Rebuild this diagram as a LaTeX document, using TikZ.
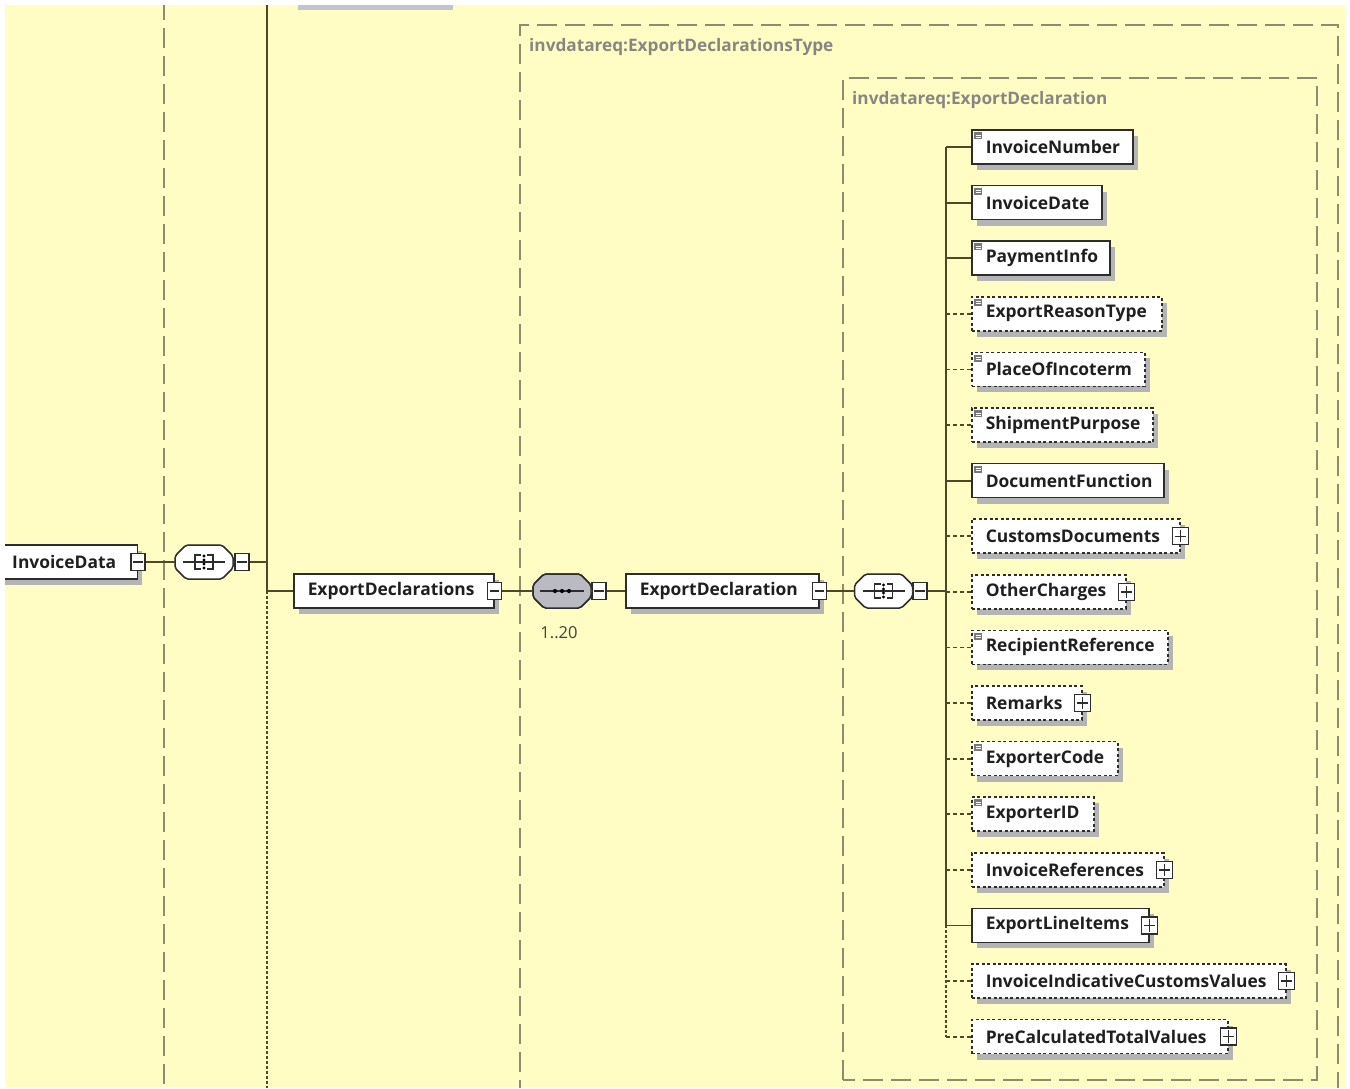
\documentclass[tikz,border=0pt]{standalone}
\usepackage{fontspec}
\setmainfont{Open Sans}
\usetikzlibrary{calc,shadows}
\definecolor{bgc}{RGB}{255,253,196}
\definecolor{linec}{RGB}{78,72,40}
\definecolor{boxc}{RGB}{45,45,45}
\definecolor{shc}{RGB}{180,180,180}
\definecolor{framec}{RGB}{140,140,112}
\definecolor{lblc}{RGB}{135,135,130}
\definecolor{compgray}{RGB}{186,186,194}
\definecolor{compdark}{RGB}{160,160,168}
\definecolor{iconc}{RGB}{120,120,120}
\definecolor{topgray}{RGB}{196,196,206}

\newcommand\octo[2]{%
  \draw[#2] ($(#1)+(-29,-6)$) -- ($(#1)+(-18,-17)$) -- ($(#1)+(18,-17)$) -- ($(#1)+(29,-6)$)
   -- ($(#1)+(29,6)$) -- ($(#1)+(18,17)$) -- ($(#1)+(-18,17)$) -- ($(#1)+(-29,6)$) -- cycle;}
\newcommand\allicon[1]{%
  \draw[boxc,line width=1.2pt] ($(#1)+(-21,0)$) -- ($(#1)+(21,0)$);
  \draw[boxc,line width=1.4pt] ($(#1)+(-3,-7)$) -- ($(#1)+(-9,-7)$) -- ($(#1)+(-9,7)$) -- ($(#1)+(-3,7)$);
  \draw[boxc,line width=1.4pt] ($(#1)+(3,-7)$) -- ($(#1)+(9,-7)$) -- ($(#1)+(9,7)$) -- ($(#1)+(3,7)$);
  \foreach \dy in {-6,-2,2,6} {\fill[black] ($(#1)+(0,\dy)$) circle (1.6pt);}}
\newcommand\sicon[1]{%
  \fill[iconc] ($(#1.north west)+(3,3)$) rectangle ($(#1.north west)+(11,10)$);
  \draw[white,line width=.5pt] ($(#1.north west)+(4.5,5.5)$) -- ($(#1.north west)+(9.5,5.5)$)
    ($(#1.north west)+(4.5,7.5)$) -- ($(#1.north west)+(9.5,7.5)$);}
\newcommand\minusbox[2]{%
  \node[pmbox] (#1) at (#2) {};
  \draw[boxc,line width=1.3pt] ($(#1.west)+(3,0)$) -- ($(#1.east)+(-3,0)$);}
\newcommand\plusbox[2]{%
  \node[pmbox,minimum width=16pt,minimum height=17pt] (#1) at (#2) {};
  \draw[boxc,line width=1.4pt] ($(#1.west)+(3,0)$) -- ($(#1.east)+(-3,0)$)
    ($(#1.north)+(0,3)$) -- ($(#1.south)+(0,-3)$);}

\begin{document}
\begin{tikzpicture}[x=1pt,y=-1pt,
  conn/.style={draw=linec,line width=1.8pt},
  optconn/.style={conn,dash pattern=on 4pt off 3pt},
  dotconn/.style={conn,line width=2pt,dash pattern=on 2.5pt off 2.5pt},
  frame/.style={draw=framec,line width=1.4pt,dash pattern=on 20pt off 8pt},
  elem/.style={draw=boxc,line width=1.5pt,fill=white,anchor=west,minimum height=34pt,
     inner xsep=14pt,inner ysep=0pt,align=left,
     font=\fontsize{17.4}{20}\selectfont\bfseries,text=black!88,
     drop shadow={shadow xshift=5pt,shadow yshift=-6pt,fill=shc,opacity=1}},
  optelem/.style={elem,dash pattern=on 3pt off 2.5pt},
  pmbox/.style={draw=boxc,line width=1.5pt,fill=white,minimum width=14pt,minimum height=17pt,inner sep=0pt},
  compnode/.style={rectangle,minimum width=58pt,minimum height=34pt,inner sep=0pt},
  comp/.style={draw=boxc,line width=1.5pt,fill=white,rounded corners=2pt},
  compg/.style={draw=boxc,line width=1.5pt,fill=compgray,rounded corners=2pt},
  compsh/.style={fill=shc,rounded corners=2pt},
  lbl/.style={anchor=west,font=\fontsize{17.2}{20}\selectfont\bfseries,text=lblc,inner sep=0pt},
]
\useasboundingbox (0,0) rectangle (1350,1088);
\fill[white] (0,0) rectangle (1350,1088);
\fill[bgc] (5,5) rectangle (1345,1087);
\begin{scope}
\clip (5,5) rectangle (1345,1087);

% frames
\draw[frame] (164,0) -- (164,1100);
\draw[frame] (520,1100) -- (520,25) -- (1338,25) -- (1338,1100);
\draw[frame] (843,1080) -- (843,78) -- (1317,78) -- (1317,1080) -- cycle;
\node[lbl] (lt1) at (529,47) {invdatareq:ExportDeclarationsType};
\node[lbl] (lt2) at (852,100) {invdatareq:ExportDeclaration};

% top gray remnant
\fill[topgray] (298,0) rectangle (453,10);

% left trunk
\coordinate (tA) at (267,0);
\coordinate (tB) at (267,591);
\coordinate (tC) at (267,1100);
\draw[conn] (tA) -- (tB);
\draw[dotconn] (tB) -- (tC);

% InvoiceData
\node[elem,anchor=east,text width=111pt] (id) at (138,562) {InvoiceData};
\minusbox{idm}{id.east}
\node[compnode] (c1) at (204,562) {};
\octo{c1}{compsh,xshift=4pt,yshift=-5pt}
\octo{c1}{comp}
\allicon{c1}
\minusbox{c1m}{242,562}
\draw[conn] (idm.east) -- (c1.west);
\draw[conn] (c1.east) -- (c1m.west);
\draw[conn] (c1m.east) -- (c1m.east -| tA);

% ExportDeclarations
\node[elem,text width=172pt] (eds) at (293,591) {ExportDeclarations};
\minusbox{edsm}{eds.east}
\draw[conn] (tB) -- (eds.west);

% multiple sequence
\node[compnode] (c2) at (562,591) {};
\octo{c2}{compsh,xshift=10pt,yshift=-10pt}
\octo{c2}{compg,fill=compdark,xshift=6pt,yshift=-5pt}
\octo{c2}{compg}
\draw[boxc,line width=1.3pt] ($(c2)+(-22,0)$) -- ($(c2)+(22,0)$);
\foreach \dx in {-7,0,7} {\fill[black] ($(c2)+(\dx,0)$) circle (2.1pt);}
\node[font=\fontsize{16.5}{19}\selectfont,text=black!75] (occ) at (559,633) {1..20};
\minusbox{c2m}{599,591}
\draw[conn] (edsm.east) -- (c2.west);
\draw[conn] (c2.east) -- (c2m.west);

% ExportDeclaration
\node[elem,text width=165pt] (ed) at (625,591) {ExportDeclaration};
\minusbox{edm}{ed.east}
\draw[conn] (c2m.east) -- (ed.west);
\node[compnode] (c3) at (883.5,591) {};
\octo{c3}{compsh,xshift=4pt,yshift=-5pt}
\octo{c3}{comp}
\allicon{c3}
\minusbox{c3m}{920,591}
\draw[conn] (edm.east) -- (c3.west);
\draw[conn] (c3.east) -- (c3m.west);

% children trunk
\coordinate (T1) at (946,147);
\coordinate (T2) at (946,925.4);
\coordinate (T3) at (946,1036.6);
\draw[conn] (c3m.east) -- (c3m.east -| T1);
\draw[conn] (T1) -- (T2);
\draw[dotconn] (T2) -- (T3);

% children
\node[elem,text width=133pt] (e1) at (971,147) {InvoiceNumber};
\node[elem,text width=102pt] (e2) at (971,202.6) {InvoiceDate};
\node[elem,text width=110pt] (e3) at (971,258.2) {PaymentInfo};
\node[optelem,text width=162pt] (e4) at (971,313.8) {ExportReasonType};
\node[optelem,text width=145pt] (e5) at (971,369.4) {PlaceOfIncoterm};
\node[optelem,text width=153pt] (e6) at (971,425) {ShipmentPurpose};
\node[elem,text width=164pt] (e7) at (971,480.6) {DocumentFunction};
\node[optelem,text width=180pt] (e8) at (971,536.2) {CustomsDocuments};
\node[optelem,text width=126pt] (e9) at (971,591.8) {OtherCharges};
\node[optelem,text width=168pt] (e10) at (971,647.4) {RecipientReference};
\node[optelem,text width=82pt] (e11) at (971,703) {Remarks};
\node[optelem,text width=118pt] (e12) at (971,758.6) {ExporterCode};
\node[optelem,text width=94pt] (e13) at (971,814.2) {ExporterID};
\node[optelem,text width=164pt] (e14) at (971,869.8) {InvoiceReferences};
\node[elem,text width=149pt] (e15) at (971,925.4) {ExportLineItems};
\node[optelem,text width=286pt] (e16) at (971,981) {InvoiceIndicativeCustomsValues};
\node[optelem,text width=228pt] (e17) at (971,1036.6) {PreCalculatedTotalValues};

\foreach \n in {1,2,3,7,15} {\draw[conn] (e\n.west -| T1) -- (e\n.west);}
\foreach \n in {4,5,6,8,9,10,11,12,13,14,16,17} {\draw[optconn] (e\n.west -| T1) -- (e\n.west);}

\foreach \n in {1,2,3,4,5,6,7,10,12,13} {\sicon{e\n}}
\plusbox{p8}{e8.east}
\plusbox{p9}{e9.east}
\plusbox{p11}{e11.east}
\plusbox{p14}{e14.east}
\plusbox{p15}{e15.east}
\plusbox{p16}{e16.east}
\plusbox{p17}{e17.east}
\end{scope}
\end{tikzpicture}
\end{document}
